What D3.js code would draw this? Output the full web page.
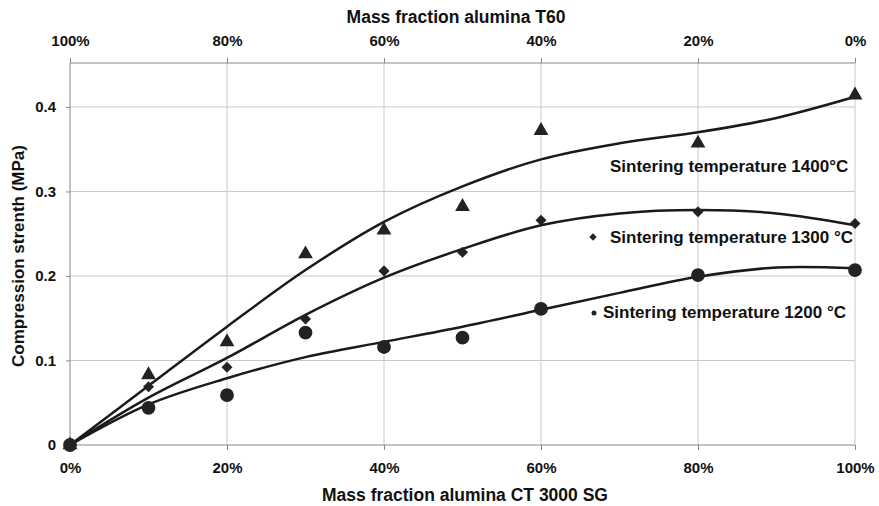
<!DOCTYPE html>
<html>
<head>
<meta charset="utf-8">
<script src="https://cdn.jsdelivr.net/npm/d3@7"></script>
<style>
  body { margin: 0; background: #fff; }
  svg text { font-family: "Liberation Sans", Arial, sans-serif; font-weight: bold; fill: #111; }
</style>
</head>
<body>
<svg id="chart" width="879" height="506"></svg>
<script>
// mass fraction CT 3000 SG (%), top axis shows the complement (T60)
const fractions = [0, 10, 20, 30, 40, 50, 60, 80, 100];
const s1400 = [0, 0.083, 0.122, 0.226, 0.254, 0.282, 0.372, 0.357, 0.414];
const s1300 = [0, 0.069, 0.092, 0.149, 0.206, 0.228, 0.266, 0.276, 0.262];
const s1200 = [0, 0.044, 0.059, 0.133, 0.116, 0.127, 0.161, 0.201, 0.207];
// trend lines
const trendX = [0, 10, 20, 30, 40, 50, 60, 70, 80, 90, 100];
const trend1400 = [0, 0.070, 0.140, 0.207, 0.264, 0.306, 0.338, 0.357, 0.370, 0.387, 0.412];
const trend1300 = [0, 0.056, 0.103, 0.154, 0.198, 0.232, 0.260, 0.274, 0.278, 0.274, 0.260];
const trend1200 = [0, 0.048, 0.079, 0.104, 0.122, 0.140, 0.160, 0.180, 0.199, 0.210, 0.209];
const xTicks = [0, 20, 40, 60, 80, 100];
const yTicks = [0, 0.1, 0.2, 0.3, 0.4];
const seriesNames = ["Sintering temperature 1400°C", "Sintering temperature 1300 °C", "Sintering temperature 1200 °C"];

let svg = d3.select("#chart"),
  pLeft = 70, pRight = 855, pTop = 63, pBottom = 445;

let x = d3.scaleLinear().domain([0, 100]).range([pLeft, pRight]);
let xTop = d3.scaleLinear().domain([100, 0]).range([pLeft, pRight]);
let y = d3.scaleLinear().domain([0, 0.452]).range([pBottom, pTop]);

// grid
svg.append("g").selectAll("line").data(xTicks.slice(1)).enter().append("line")
  .attr("x1", (d) => x(d)).attr("x2", (d) => x(d))
  .attr("y1", pTop).attr("y2", pBottom)
  .attr("stroke", "#c9c9c9").attr("stroke-width", 1);
svg.append("g").selectAll("line").data(yTicks.slice(1)).enter().append("line")
  .attr("x1", pLeft).attr("x2", pRight)
  .attr("y1", (d) => y(d)).attr("y2", (d) => y(d))
  .attr("stroke", "#c9c9c9").attr("stroke-width", 1);

// axes
function styleAxis(g) {
  g.select(".domain").remove();
  g.selectAll(".tick line").attr("stroke", "#888");
  g.selectAll(".tick text").attr("font-size", "15px").attr("fill", "#111");
}
svg.append("g").attr("transform", "translate(0," + pBottom + ")")
  .call(d3.axisBottom(x).tickValues(xTicks).tickSize(5).tickPadding(12).tickFormat((d) => d + "%"))
  .call(styleAxis);
svg.append("g").attr("transform", "translate(0," + pTop + ")")
  .call(d3.axisTop(xTop).tickValues(xTicks).tickSize(5).tickPadding(12).tickFormat((d) => d + "%"))
  .call(styleAxis);
svg.append("g").attr("transform", "translate(" + pLeft + ",0)")
  .call(d3.axisLeft(y).tickValues(yTicks).tickSize(4).tickPadding(10).tickFormat((d) => d === 0 ? "0" : d3.format(".1f")(d)))
  .call(styleAxis);
svg.append("line").attr("x1", pLeft).attr("x2", pLeft).attr("y1", pTop).attr("y2", pBottom).attr("stroke", "#888");
svg.append("line").attr("x1", pLeft).attr("x2", pRight).attr("y1", pTop).attr("y2", pTop).attr("stroke", "#888");
svg.append("line").attr("x1", pLeft).attr("x2", pRight).attr("y1", pBottom).attr("y2", pBottom).attr("stroke", "#888");

// titles
svg.append("text").attr("x", 456).attr("y", 23).attr("text-anchor", "middle").attr("font-size", "17.5px").text("Mass fraction alumina T60");
svg.append("text").attr("x", 465).attr("y", 501).attr("text-anchor", "middle").attr("font-size", "17.5px").text("Mass fraction alumina CT 3000 SG");
svg.append("text").attr("transform", "translate(24,256) rotate(-90)").attr("text-anchor", "middle").attr("font-size", "17px").text("Compression strenth (MPa)");

// trend lines
let line = d3.line().x((d) => x(d[0])).y((d) => y(d[1])).curve(d3.curveCatmullRom.alpha(0.5));
[trend1400, trend1300, trend1200].forEach((t) => {
  svg.append("path")
    .attr("d", line(trendX.map((v, i) => [v, t[i]])))
    .attr("fill", "none").attr("stroke", "#1a1a1a").attr("stroke-width", 2.5);
});

// markers
let markers = [
  { data: s1400, sym: d3.symbolTriangle, size: 95 },
  { data: s1300, sym: d3.symbolDiamond2, size: 78 },
  { data: s1200, sym: d3.symbolCircle, size: 150 }
];
markers.forEach((m) => {
  svg.append("g").selectAll("path").data(m.data).enter().append("path")
    .attr("transform", (d, i) => "translate(" + x(fractions[i]) + "," + y(d) + ")")
    .attr("d", d3.symbol().type(m.sym).size(m.size))
    .attr("fill", "#222");
});

// series labels
svg.append("text").attr("x", 610).attr("y", 172).attr("font-size", "17px").text(seriesNames[0]);
svg.append("path").attr("transform", "translate(593,237)").attr("d", d3.symbol().type(d3.symbolDiamond2).size(34)).attr("fill", "#222");
svg.append("text").attr("x", 610).attr("y", 243).attr("font-size", "17px").text(seriesNames[1]);
svg.append("circle").attr("cx", 594).attr("cy", 313).attr("r", 2.5).attr("fill", "#222");
svg.append("text").attr("x", 603).attr("y", 318).attr("font-size", "17px").text(seriesNames[2]);
</script>
</body>
</html>
